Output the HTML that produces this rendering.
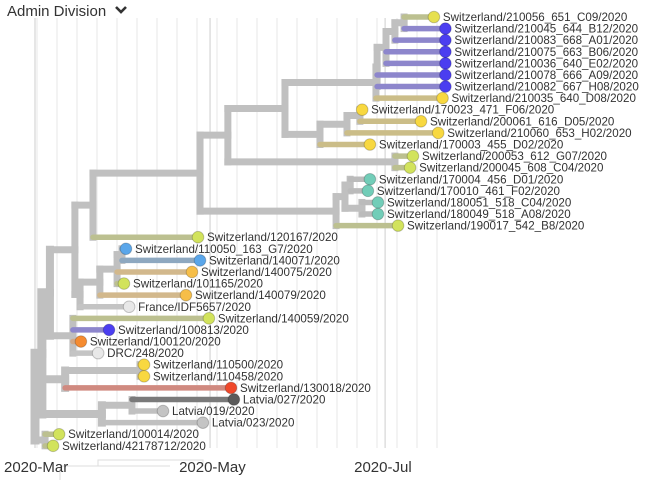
<!DOCTYPE html>
<html><head><meta charset="utf-8"><style>
body{margin:0;background:#fff;width:668px;height:480px;overflow:hidden;font-family:"Liberation Sans",sans-serif}
svg{position:absolute;left:0;top:0}
</style></head><body>
<svg id="chart" width="668" height="480">
  <g>
    <text x="7" y="16" font-size="15" fill="#333">Admin Division</text>
    <path d="M116 7 l5 5 l5 -5" stroke="#333" stroke-width="2.6" fill="none"/>
  </g>
  <g id="grid"></g>
  <g id="branches"></g>
  <g id="tips"></g>
  <g id="axis">
    <path d="M60 467 V480 M60 466 H98 V460 H203 V466 M98 466 H170 M130 460 H203" stroke="#ddd" stroke-width="1" fill="none"/>
  </g>
</svg>
<script>
// ---- data ----
const tipNames=["Switzerland/210056_651_C09/2020","Switzerland/210045_644_B12/2020","Switzerland/210083_668_A01/2020","Switzerland/210075_663_B06/2020","Switzerland/210036_640_E02/2020","Switzerland/210078_666_A09/2020","Switzerland/210082_667_H08/2020","Switzerland/210035_640_D08/2020","Switzerland/170023_471_F06/2020","Switzerland/200061_616_D05/2020","Switzerland/210060_653_H02/2020","Switzerland/170003_455_D02/2020","Switzerland/200053_612_G07/2020","Switzerland/200045_608_C04/2020","Switzerland/170004_456_D01/2020","Switzerland/170010_461_F02/2020","Switzerland/180051_518_C04/2020","Switzerland/180049_518_A08/2020","Switzerland/190017_542_B8/2020","Switzerland/120167/2020","Switzerland/110050_163_G7/2020","Switzerland/140071/2020","Switzerland/140075/2020","Switzerland/101165/2020","Switzerland/140079/2020","France/IDF5657/2020","Switzerland/140059/2020","Switzerland/100813/2020","Switzerland/100120/2020","DRC/248/2020","Switzerland/110500/2020","Switzerland/110458/2020","Switzerland/130018/2020","Latvia/027/2020","Latvia/019/2020","Latvia/023/2020","Switzerland/100014/2020","Switzerland/42178712/2020"];
const tipDays=[139,143,143,143,143,143,143,142,114,134.5,140.5,116.7,131.7,130.7,116.7,116,119.5,119.5,126.5,56.8,31.7,57.5,54.7,31,52.6,32.8,60.6,25.8,16,22,38,38,68.3,69.3,44.6,58.5,8.4,6.3];
const tipGroups=["yg2","pu","pu","pu","pu","pu","pu","ye","ye","ye","ye","ye","yg","yg","te","te","te","te","yg","yg","bl","bl","am","yg","am","lg","yg","pu","or","lg","ye","ye","re","dk","gr","gr","yg","yg"];
const tipParent=[13,13,12,11,11,10,10,9,16,16,15,14,17,17,20,20,21,21,18,5,25,25,24,24,23,22,26,26,26,26,28,28,27,30,30,29,2,2];
const nodeDays=[0,2.4,3.5,5.2,13.9,20.2,57.5,67.2,87.1,118.8,119.2,122.3,125.4,128.6,99.3,108.7,113.2,125.4,104.9,108,109.8,113.9,15.7,22.6,28.6,30.3,13.2,10.5,36.6,23.3,33.8];
const nodeParent=[-1,0,0,1,3,4,5,6,7,8,9,10,11,12,8,14,15,7,6,18,19,19,4,22,23,24,3,1,27,1,29];
const tickLabels=["2020-Mar","2020-May","2020-Jul"];
const tickDays=[0,61,122];
// ---- styles ----
const fills={ye:"#f8d840",yg:"#d2e35c",yg2:"#e6e050",pu:"#4b3ef0",te:"#72cdb8",bl:"#5aa6ea",am:"#f6be48",or:"#f58b30",lg:"#e8e8e8",re:"#f0482a",dk:"#5a5a5a",gr:"#c4c4c4"};
const branchC={ye:"#cbbd88",yg:"#bcc090",yg2:"#bcc090",pu:"#8d86cc",te:"#bbbbbb",bl:"#8ea8c0",am:"#d2b88c",or:"#d0a888",lg:"#c4c4c4",re:"#d08a80",dk:"#7a7a7a",gr:"#c0c0c0"};
const X=d=>35+d*2.87;
const Y=i=>17+i*11.59;
const NS="http://www.w3.org/2000/svg";
function mk(tag,attrs,parent){const e=document.createElementNS(NS,tag);for(const k in attrs)e.setAttribute(k,attrs[k]);parent.appendChild(e);return e;}
// grid
const grid=document.getElementById('grid');
for(let x=37;x<=445;x+=20){
  const l=mk('line',{x1:x,x2:x,y1:18,y2:448,stroke:"#efefef","stroke-width":1.5},grid);
  
  
}
const axis=document.getElementById('axis');
tickDays.forEach((d,i)=>{
  const l=mk('line',{x1:X(d),x2:X(d),y1:18,y2:448,stroke:"#dedede","stroke-width":1.5},grid);
  
  
  const t=mk('text',{x:X(d)-31,y:472,"font-size":15,fill:"#333"},axis);
  t.textContent=tickLabels[i];
  
  
});
// compute node y
const children=nodeDays.map(()=>[]);
tipParent.forEach((p,i)=>children[p].push({tip:true,i}));
nodeParent.forEach((p,i)=>{if(p>=0)children[p].push({tip:false,i});});
const nodeY=[];
function ny(n){const ys=children[n].map(c=>c.tip?Y(c.i):ny(c.i));const v=(Math.min(...ys)+Math.max(...ys))/2;nodeY[n]=v;return v;}
ny(0);
const br=document.getElementById('branches');
function w(n){return n<=1?9:(n===3||n===27||n===29?8:7);}
nodeDays.forEach((d,n)=>{
  const ys=children[n].map(c=>c.tip?Y(c.i):nodeY[c.i]);
  const v=mk('line',{x1:X(d),x2:X(d),y1:Math.min(...ys),y2:Math.max(...ys),stroke:"#c0c0c0","stroke-width":w(n),"stroke-linecap":"square"},br);
  
  
  const p=nodeParent[n];
  if(p>=0){
    const h=mk('line',{x1:X(nodeDays[p]),x2:X(d),y1:nodeY[n],y2:nodeY[n],stroke:"#c0c0c0","stroke-width":w(n),"stroke-linecap":"square"},br);
    
    
  }
});
const tg=document.getElementById('tips');
tipNames.forEach((name,i)=>{
  const g=tipGroups[i],y=Y(i),x=X(tipDays[i]),px=X(nodeDays[tipParent[i]]);
  const b=mk('line',{x1:px,x2:x,y1:y,y2:y,stroke:branchC[g],"stroke-width":5.5,"stroke-linecap":"round"},br);
  
  
  const c=mk('circle',{cx:x,cy:y,r:5.8,fill:fills[g],stroke:"#00000033","stroke-width":1},tg);
  
  
  const t=mk('text',{x:x+9,y:y+4,"font-size":11.6,fill:"#333"},tg);
  t.textContent=name;
  
  
});
</script>
</body></html>
